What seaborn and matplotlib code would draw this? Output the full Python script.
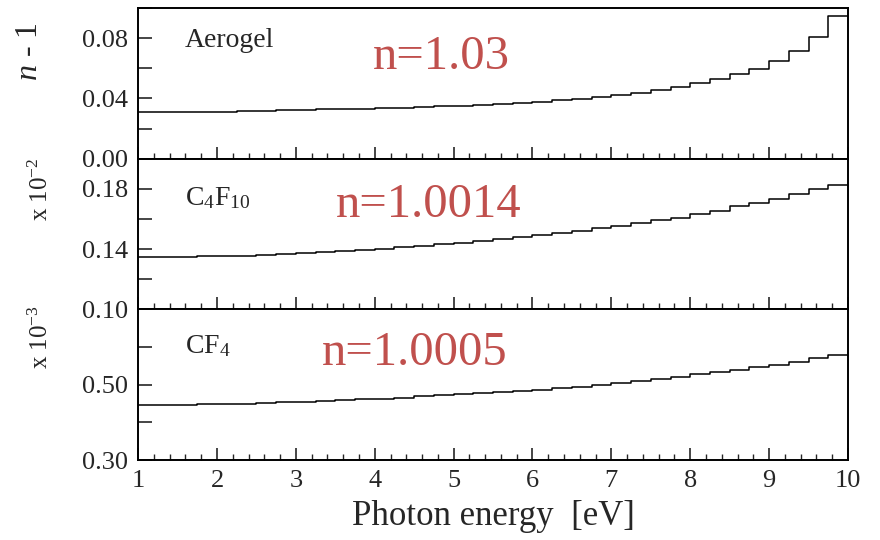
import numpy as np
import pandas as pd
import matplotlib
matplotlib.use("Agg")
import matplotlib.pyplot as plt
from matplotlib.ticker import FixedLocator, MultipleLocator, FormatStrFormatter
import seaborn as sns

# ---------------- data ----------------
edges = np.arange(1.0, 10.001, 0.25)          # photon energy bin edges [eV]

# n - 1 for aerogel
aerogel = [0.0313, 0.0313, 0.0313, 0.0313, 0.0313, 0.0318, 0.0319, 0.0322, 0.0324,
           0.0327, 0.0329, 0.0332, 0.0336, 0.0339, 0.0343, 0.0347, 0.0352, 0.0357,
           0.0365, 0.0371, 0.0379, 0.0387, 0.0396, 0.0409, 0.0425, 0.0438, 0.0458,
           0.0476, 0.0500, 0.0527, 0.0560, 0.0593, 0.0647, 0.0713, 0.0805, 0.0949]
# n - 1 in units of 1e-2 for C4F10
c4f10 = [0.1347, 0.1347, 0.1350, 0.1352, 0.1352, 0.1356, 0.1362, 0.1368, 0.1374,
         0.1381, 0.1388, 0.1395, 0.1404, 0.1414, 0.1422, 0.1432, 0.1442, 0.1454,
         0.1468, 0.1480, 0.1492, 0.1505, 0.1520, 0.1538, 0.1556, 0.1573, 0.1591,
         0.1609, 0.1636, 0.1653, 0.1685, 0.1707, 0.1731, 0.1765, 0.1798, 0.1829]
# n - 1 in units of 1e-3 for CF4
cf4 = [0.446, 0.446, 0.447, 0.448, 0.449, 0.450, 0.451, 0.453, 0.455,
       0.457, 0.459, 0.461, 0.463, 0.466, 0.469, 0.472, 0.475, 0.478,
       0.481, 0.484, 0.487, 0.491, 0.495, 0.500, 0.505, 0.5096, 0.5164,
       0.5216, 0.5286, 0.533, 0.540, 0.5468, 0.5537, 0.5615, 0.570, 0.5797]

names = ["Aerogel", r"C$_4$F$_{10}$", r"CF$_4$"]
index_labels = ["n=1.03", "n=1.0014", "n=1.0005"]
ylims = [(0.0, 0.10), (0.10, 0.20), (0.30, 0.70)]
major_ticks = [[0.00, 0.04, 0.08], [0.10, 0.14, 0.18], [0.30, 0.50]]
minor_ticks = [[0.02, 0.06, 0.10], [0.12, 0.16, 0.20], [0.40, 0.60, 0.70]]
xticks = list(range(1, 11))

# step outline: repeat last bin value at the right edge
df = pd.DataFrame({"energy": edges,
                   "Aerogel": aerogel + aerogel[-1:],
                   "C4F10": c4f10 + c4f10[-1:],
                   "CF4": cf4 + cf4[-1:]})

# ---------------- style ----------------
sns.set_theme(style="ticks")
plt.rcParams["font.family"] = ["Liberation Serif", "DejaVu Serif"]
plt.rcParams["mathtext.fontset"] = "custom"
plt.rcParams["mathtext.rm"] = "Liberation Serif"
plt.rcParams["mathtext.it"] = "Liberation Serif:italic"

fig = plt.figure(figsize=(8.8, 5.4), dpi=100)
axes = fig.subplots(3, 1, sharex=True)
fig.subplots_adjust(left=0.157, right=0.9636, top=0.985, bottom=0.148, hspace=0)

red = "#C0504D"
label_pos = [(0.066, 0.787), (0.066, 0.74), (0.066, 0.757)]
red_pos = [(0.427, 0.675), (0.41, 0.69), (0.39, 0.71)]

for i, (ax, col) in enumerate(zip(axes, ["Aerogel", "C4F10", "CF4"])):
    sns.lineplot(data=df, x="energy", y=col, drawstyle="steps-post",
                 estimator=None, color="black", linewidth=1.1, ax=ax)
    ax.set_xlim(1, 10)
    ax.set_ylim(*ylims[i])
    ax.set_ylabel("")
    ax.set_xlabel("")
    ax.yaxis.set_major_locator(FixedLocator(major_ticks[i]))
    ax.yaxis.set_minor_locator(FixedLocator(minor_ticks[i]))
    ax.yaxis.set_major_formatter(FormatStrFormatter("%.2f"))
    ax.xaxis.set_major_locator(FixedLocator(xticks))
    ax.xaxis.set_minor_locator(MultipleLocator(0.2))
    ax.tick_params(axis="y", which="both", direction="in", length=10, width=1.2,
                   labelsize=19, pad=7)
    ax.tick_params(axis="x", which="major", direction="in", length=8.5, width=1.2,
                   labelsize=19, pad=7)
    ax.tick_params(axis="x", which="minor", direction="in", length=4, width=1.0)
    for s in ax.spines.values():
        s.set_linewidth(1.4)
        s.set_color("black")
    ax.text(*label_pos[i], names[i], transform=ax.transAxes, fontsize=20,
            ha="left", va="center")
    ax.text(*red_pos[i], index_labels[i], transform=ax.transAxes, fontsize=35,
            color=red, ha="center", va="center")

axes[-1].set_xlabel("Photon energy  [eV]", fontsize=25, labelpad=6)

fig.text(0.034, 0.905, r"$n$ - 1", rotation=90, ha="center", va="center", fontsize=23)
fig.text(0.046, 0.65, r"x 10$^{-2}$", rotation=90, ha="center", va="center", fontsize=18)
fig.text(0.046, 0.375, r"x 10$^{-3}$", rotation=90, ha="center", va="center", fontsize=18)

fig.savefig("out.png", dpi=100)
